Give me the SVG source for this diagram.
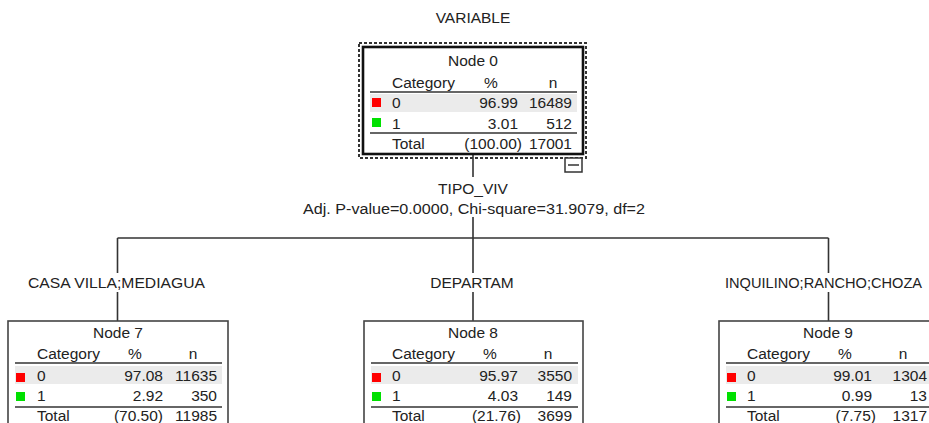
<svg xmlns="http://www.w3.org/2000/svg" width="929" height="423" viewBox="0 0 929 423">
<style>
text{font-family:"Liberation Sans",Arial,sans-serif;font-size:15.5px;fill:#222}
.m{text-anchor:middle}
.e{text-anchor:end}
.box{fill:#fff;stroke:#444;stroke-width:1.6}
.box0{fill:#fff;stroke:#111;stroke-width:2.6}
.sep{stroke:#666;stroke-width:2}
.hl{fill:#ebebeb}
.r{fill:#ff0000}
.g{fill:#00e000}
.conn{stroke:#333;stroke-width:1.6;fill:none}
</style>
<rect width="929" height="423" fill="#fff"/>
<text class="m" x="473" y="23">VARIABLE</text>
<g id="connectors">
<path class="conn" d="M473,154V177M473,217V238M117.5,238H828.5M117.5,238V273M473,238V273M828.5,238V273M117.5,292V321M473,292V321M828.5,292V321"/>
</g>
<g id="labels">
<text class="m" x="473" y="194">TIPO_VIV</text>
<text x="303" y="214" textLength="342" lengthAdjust="spacingAndGlyphs">Adj. P-value=0.0000, Chi-square=31.9079, df=2</text>
<text x="28" y="288" textLength="177" lengthAdjust="spacingAndGlyphs">CASA VILLA;MEDIAGUA</text>
<text class="m" x="472" y="288">DEPARTAM</text>
<text x="725" y="288" style="font-size:14.6px">INQUILINO;RANCHO;CHOZA</text>
</g>
<g id="node0">
<rect x="359" y="43" width="227" height="115" fill="none" stroke="#333" stroke-width="2" stroke-dasharray="3,2"/>
<rect class="box0" x="363" y="47" width="220" height="107"/>
<rect class="hl" x="370" y="94" width="207" height="18"/>
<line class="sep" x1="370" y1="92" x2="577" y2="92"/>
<line class="sep" x1="370" y1="133" x2="577" y2="133"/>
<rect class="r" x="372" y="98" width="9" height="9"/>
<rect class="g" x="372" y="118" width="9" height="9"/>
<text class="m" x="473" y="66">Node 0</text>
<text x="392" y="88">Category</text>
<text class="m" x="491" y="88">%</text>
<text class="m" x="553" y="88">n</text>
<text x="392" y="108">0</text>
<text class="e" x="518" y="108">96.99</text>
<text class="e" x="572" y="108">16489</text>
<text x="392" y="129">1</text>
<text class="e" x="518" y="129">3.01</text>
<text class="e" x="572" y="129">512</text>
<text x="392" y="149">Total</text>
<text class="e" x="522" y="149">(100.00)</text>
<text class="e" x="572" y="149">17001</text>
<rect x="565" y="158" width="17" height="14" fill="#fff" stroke="#333" stroke-width="1.5"/>
<line x1="568" y1="165" x2="579" y2="165" stroke="#333" stroke-width="1.5"/>
</g>
<g id="node7">
<rect class="box" x="8" y="321" width="220" height="110"/>
<rect class="hl" x="15" y="366" width="207" height="18"/>
<line class="sep" x1="15" y1="363" x2="222" y2="363"/>
<line class="sep" x1="15" y1="407" x2="222" y2="407"/>
<rect class="r" x="16" y="373" width="9" height="9"/>
<rect class="g" x="16" y="392" width="9" height="9"/>
<text class="m" x="118" y="338">Node 7</text>
<text x="37" y="359">Category</text>
<text class="m" x="135" y="359">%</text>
<text class="m" x="193" y="359">n</text>
<text x="37" y="381">0</text>
<text class="e" x="163" y="381">97.08</text>
<text class="e" x="217" y="381">11635</text>
<text x="37" y="401">1</text>
<text class="e" x="163" y="401">2.92</text>
<text class="e" x="217" y="401">350</text>
<text x="37" y="421">Total</text>
<text class="e" x="163" y="421">(70.50)</text>
<text class="e" x="217" y="421">11985</text>
</g>
<g id="node8">
<rect class="box" x="364" y="321" width="219" height="110"/>
<rect class="hl" x="371" y="366" width="207" height="18"/>
<line class="sep" x1="371" y1="363" x2="578" y2="363"/>
<line class="sep" x1="371" y1="407" x2="578" y2="407"/>
<rect class="r" x="372" y="373" width="9" height="9"/>
<rect class="g" x="372" y="392" width="9" height="9"/>
<text class="m" x="473" y="338">Node 8</text>
<text x="392" y="359">Category</text>
<text class="m" x="490" y="359">%</text>
<text class="m" x="548" y="359">n</text>
<text x="392" y="381">0</text>
<text class="e" x="518" y="381">95.97</text>
<text class="e" x="572" y="381">3550</text>
<text x="392" y="401">1</text>
<text class="e" x="518" y="401">4.03</text>
<text class="e" x="572" y="401">149</text>
<text x="392" y="421">Total</text>
<text class="e" x="521" y="421">(21.76)</text>
<text class="e" x="572" y="421">3699</text>
</g>
<g id="node9">
<rect class="box" x="719" y="321" width="220" height="110"/>
<rect class="hl" x="726" y="366" width="207" height="18"/>
<line class="sep" x1="726" y1="363" x2="933" y2="363"/>
<line class="sep" x1="726" y1="407" x2="933" y2="407"/>
<rect class="r" x="727" y="373" width="9" height="9"/>
<rect class="g" x="727" y="392" width="9" height="9"/>
<text class="m" x="828" y="338">Node 9</text>
<text x="747" y="359">Category</text>
<text class="m" x="845" y="359">%</text>
<text class="m" x="903" y="359">n</text>
<text x="747" y="381">0</text>
<text class="e" x="872" y="381">99.01</text>
<text class="e" x="927" y="381">1304</text>
<text x="747" y="401">1</text>
<text class="e" x="872" y="401">0.99</text>
<text class="e" x="927" y="401">13</text>
<text x="747" y="421">Total</text>
<text class="e" x="876" y="421">(7.75)</text>
<text class="e" x="927" y="421">1317</text>
</g>
</svg>
